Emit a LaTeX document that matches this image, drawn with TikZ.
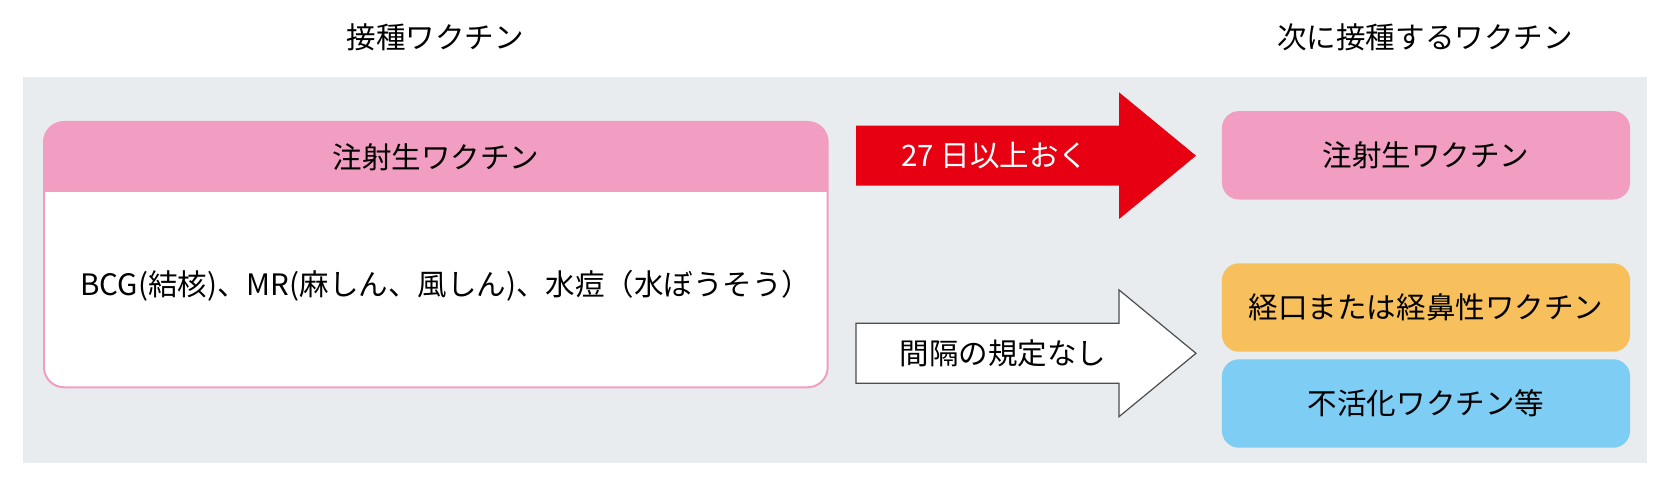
\documentclass[tikz,border=0pt]{standalone}
\usepackage{fontspec}
\setmainfont{Noto Sans CJK JP}
\definecolor{injpink}{HTML}{F19EC2}
\definecolor{oralorange}{HTML}{F8C05C}
\definecolor{inactblue}{HTML}{7DCDF4}
\definecolor{bggrey}{HTML}{E8ECEF}
\definecolor{arrowred}{HTML}{E60012}
\definecolor{arrowgrey}{HTML}{4D4D4D}
\tikzset{
  vtext/.style={font=\fontsize{21}{25}\selectfont, inner sep=0pt},
  nextbox/.style={vtext, rounded corners=4.25mm, minimum width=10.2cm, minimum height=2.21cm}
}
\begin{document}
\begin{tikzpicture}[x=0.025cm,y=-0.025cm]
			\useasboundingbox (0,0) rectangle (1671,486);
			\fill [bggrey] (22.7,77.3) rectangle (1646.7,462.7);
			\fill [white,rounded corners=5mm] (44,122) rectangle (827.7,387.3);
			\begin{scope}
				\clip (40,118) rectangle (832,191.7);
				\fill [injpink,rounded corners=5mm] (44,122) rectangle (827.7,387.3);
			\end{scope}
			\draw [injpink,line width=0.5mm,rounded corners=5mm] (44,122) rectangle (827.7,387.3);
			\fill [arrowred] (856,125.7) -- (1119,125.7) -- (1119,92.3) -- (1196,155.7) -- (1119,219.1) -- (1119,185.7) -- (856,185.7) -- cycle;
			\draw [arrowgrey,line width=0.3mm,fill=white] (856,323.3) -- (1119,323.3) -- (1119,289.9) -- (1196,353.3) -- (1119,416.7) -- (1119,383.3) -- (856,383.3) -- cycle;
			\node [vtext] (given) at (435.3,37) {接種ワクチン};
			\node [vtext] (next) at (1425,37) {次に接種するワクチン};
			\node [vtext] (livehead) at (436,157) {注射生ワクチン};
			\node [vtext] (livelist) at (446,286) {BCG(結核)、MR(麻しん、風しん)、水痘（水ぼうそう）};
			\node [vtext,white] (wait) at (995,155.7) {27 日以上おく};
			\node [vtext] (nowait) at (1003,353.3) {間隔の規定なし};
			\node [nextbox,fill=injpink] (nextlive) at (1426,155.3) {注射生ワクチン};
			\node [nextbox,fill=oralorange] (nextoral) at (1426,307.5) {経口または経鼻性ワクチン};
			\node [nextbox,fill=inactblue] (nextinact) at (1426,403.5) {不活化ワクチン等};
\end{tikzpicture}
\end{document}
